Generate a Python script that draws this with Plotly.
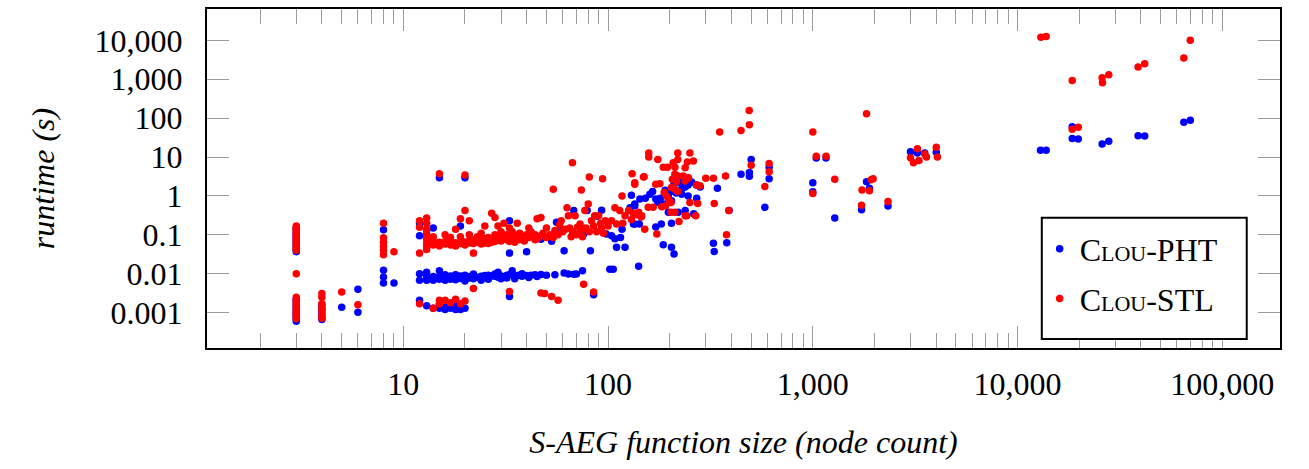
import plotly.graph_objects as go

# Runtime of the PHT-based analysis per function (size = S-AEG node count)
pht_size = [
    3, 3, 3, 3, 3, 3, 3, 3, 3, 3,
    3, 3, 3, 3, 3, 3, 3, 3, 3, 3,
    4, 4, 4, 4, 4, 5, 6, 6,
    8, 8, 8, 8, 9,
    12, 12, 12, 12, 12,
    13, 13, 13, 13, 13, 13,
    14, 14, 14, 14,
    15, 15, 15, 15, 15, 15,
    16, 16, 16, 16,
    17, 17, 17, 17,
    18, 18, 18, 18,
    19, 19, 19, 19, 19,
    20, 20, 20, 20,
    21, 21, 22, 22, 23, 24, 24, 25, 26, 26, 27, 28, 29, 29, 30, 31, 32,
    33, 33, 33, 33, 33,
    34, 35, 36, 37, 38, 40, 40, 42, 42, 44, 47, 47, 50, 53, 55, 56,
    59, 61, 61, 64, 68, 68, 70, 73, 75, 76, 79, 82, 85, 89, 93, 98,
    102, 104, 106, 108, 110, 115, 117, 121, 128, 130, 133, 135, 135, 135, 141, 142, 143,
    152, 160, 165, 171, 171, 175, 180, 182, 186, 186, 190, 197, 197, 200, 204, 204, 204,
    210, 210, 215, 220, 225, 229, 229, 238, 238, 246, 246, 256, 262, 270, 271, 282,
    327, 330, 342, 380, 390, 446, 490, 490, 500, 583, 612, 612,
    1000, 1000, 1040, 1160, 1280, 1730, 1830, 1890, 2330, 3000, 3240, 3520, 4010,
    12950, 13800, 18500, 18500, 19800, 25900, 27900, 38800, 41800, 64900, 69800,
    16, 18, 20, 22, 24, 26, 28, 30, 32, 35, 38, 41, 45,
]
pht_runtime = [
    0.15, 0.13, 0.11, 0.095, 0.08, 0.068, 0.058, 0.05, 0.043, 0.037,
    0.0022, 0.0019, 0.0016, 0.0014, 0.0012, 0.001, 0.0009, 0.0008, 0.0007, 0.0006,
    0.0016, 0.0012, 0.001, 0.0008, 0.00067, 0.00137, 0.004, 0.00102,
    0.136, 0.0123, 0.0083, 0.0058, 0.0058,
    0.2, 0.095, 0.01, 0.0068, 0.0021,
    0.13, 0.095, 0.011, 0.0085, 0.0068, 0.0015,
    0.15, 0.0085, 0.0068, 0.0013,
    2.95, 0.012, 0.0085, 0.0072, 0.0016, 0.0013,
    0.008, 0.0068, 0.0014, 0.0012,
    0.0088, 0.0072, 0.0017, 0.0013,
    0.0082, 0.007, 0.0015, 0.0012,
    0.17, 0.0088, 0.0076, 0.0014, 0.0012,
    2.95, 0.0092, 0.0074, 0.0013,
    0.0085, 0.0078, 0.0088, 0.0075, 0.0082, 0.0086, 0.0078, 0.009, 0.0084, 0.0092, 0.0088, 0.0086, 0.011, 0.0082, 0.0088, 0.0084, 0.0092,
    0.23, 0.087, 0.034, 0.0095, 0.0026,
    0.012, 0.0088, 0.009, 0.0092, 0.0086, 0.037, 0.009, 0.115, 0.0092, 0.0095, 0.077, 0.0096, 0.0092, 0.069, 0.0094, 0.21,
    0.14, 0.039, 0.0105, 0.0098, 0.42, 0.0097, 0.0099, 0.115, 0.012, 0.106, 0.42, 0.039, 0.0029, 0.3, 0.43, 0.106,
    0.013, 0.095, 0.013, 0.08, 0.048, 0.085, 0.14, 0.048, 0.5, 1.05, 0.19, 0.62, 0.56, 0.19, 0.0155, 0.19, 0.83,
    0.88, 1.11, 1.3, 0.83, 0.16, 0.68, 0.88, 0.19, 0.62, 0.056, 1.4, 0.91, 0.38, 1.25, 0.75, 0.2, 0.048,
    2.0, 0.032, 1.2, 0.38, 2.2, 1.11, 1.5, 1.7, 0.42, 1.0, 1.9, 2.3, 0.35, 1.9, 0.88, 1.7,
    0.061, 0.0375, 1.58, 0.0625, 0.42, 3.6, 4.0, 3.2, 8.7, 0.51, 5.5, 2.76,
    2.2, 1.29, 9.5, 9.5, 0.27, 0.44, 2.33, 1.58, 0.55, 13.6, 12.8, 12.8, 13.3,
    15, 15, 60, 30, 29, 21.7, 25.5, 35.5, 34.7, 78, 89,
    0.0095, 0.0095, 0.0065, 0.0098, 0.0068, 0.0072, 0.0098, 0.0075, 0.0078, 0.0075, 0.01, 0.008, 0.0085,
]

# Runtime of the STL-based analysis per function
stl_size = [
    3, 3, 3, 3, 3, 3, 3, 3, 3, 3, 3, 3, 3, 3,
    3, 3, 3, 3, 3, 3, 3, 3, 3, 3, 3, 3,
    4, 4, 4, 4, 4, 4, 4, 5, 6,
    8, 8, 8, 8, 8, 8, 9,
    12, 12, 12, 12,
    13, 13, 13, 13, 13, 13, 13, 13,
    14, 14, 14, 15, 15, 15, 15, 15,
    16, 16, 16, 17, 17, 17,
    18, 18, 18, 18, 19, 19, 19,
    20, 20, 20, 20, 20, 21, 21, 21,
    22, 22, 22, 22, 23, 24, 24, 25, 25, 25,
    26, 26, 27, 27, 27, 28, 28, 28, 29, 29, 30, 30,
    31, 31, 32, 33, 33, 33, 33, 34, 35, 36, 36, 37, 38, 39, 40,
    41, 41, 43, 44, 45, 45, 47, 47, 47, 48, 49, 50, 50, 52, 53, 54, 54, 55, 57, 57, 58, 59, 60,
    62, 63, 64, 65, 66, 67, 67, 69, 70, 71, 73, 74, 74, 75, 76, 77, 78, 80, 81, 81, 83, 85, 85,
    86, 88, 90, 92, 93, 94, 95, 97, 100,
    104, 108, 110, 114, 117, 118, 121, 126, 130, 131, 133, 135, 135, 138, 141, 145, 146, 149, 150, 151,
    157, 158, 158, 166, 171, 173, 175, 179, 183, 186, 188, 191, 193, 195, 197, 203, 203, 204, 206, 208,
    212, 212, 212, 212, 216, 219, 219, 219, 220, 222, 233, 238, 238, 238, 242, 244, 247, 251, 251,
    261, 268, 271, 274, 281,
    300, 327, 330, 351, 375, 379, 389, 446, 489, 490, 500, 583, 612, 612,
    1000, 1000, 1040, 1160, 1280, 1730, 1740, 1830, 1890, 1930, 1970, 2330,
    3000, 3100, 3240, 3300, 3520, 3590, 4010, 4060,
    13000, 13800, 18500, 18500, 19800, 25900, 26000, 27900, 38800, 41800, 64900, 69800,
    14, 16, 17, 19, 21, 23, 24, 26, 28, 30, 32, 34, 35, 37, 39, 42, 44, 46,
]
stl_runtime = [
    0.17, 0.155, 0.14, 0.125, 0.112, 0.1, 0.09, 0.08, 0.071, 0.063, 0.056, 0.05, 0.045, 0.04,
    0.01, 0.0025, 0.0021, 0.0018, 0.0016, 0.0014, 0.0012, 0.0011, 0.001, 0.0009, 0.0008, 0.0007,
    0.0031, 0.0025, 0.0017, 0.0014, 0.00117, 0.00087, 0.00072, 0.0034, 0.0016,
    0.2, 0.084, 0.065, 0.051, 0.04, 0.031, 0.037,
    0.23, 0.156, 0.034, 0.0017,
    0.27, 0.2, 0.14, 0.1, 0.08, 0.062, 0.05, 0.042,
    0.07, 0.055, 0.0013, 3.7, 0.065, 0.052, 0.0021, 0.0017,
    0.068, 0.058, 0.0021, 0.07, 0.055, 0.0018,
    0.14, 0.063, 0.052, 0.0022, 0.26, 0.06, 0.0017,
    3.45, 0.42, 0.066, 0.055, 0.002, 0.23, 0.062, 0.07,
    0.034, 0.0042, 0.06, 0.075, 0.065, 0.07, 0.058, 0.17, 0.08, 0.062,
    0.072, 0.085, 0.36, 0.075, 0.065, 0.28, 0.08, 0.068, 0.17, 0.078, 0.088, 0.07,
    0.2, 0.082, 0.075, 0.15, 0.09, 0.068, 0.0035, 0.08, 0.085, 0.2, 0.095, 0.075, 0.088, 0.07, 0.1,
    0.15, 0.085, 0.09, 0.1, 0.26, 0.08, 0.28, 0.095, 0.0032, 0.11, 0.0031, 0.15, 0.085, 0.1, 0.0026, 1.49, 0.085, 0.13, 0.1, 0.0021, 0.18, 0.23, 0.12,
    0.14, 0.5, 0.31, 0.15, 0.09, 7.1, 0.12, 0.31, 0.1, 0.16, 0.19, 1.43, 0.13, 0.09, 0.0054, 0.42, 0.15, 0.62, 3.07, 0.12, 0.23, 0.17, 0.0034,
    0.31, 0.12, 0.31, 0.2, 0.15, 2.78, 0.11, 0.23, 0.17,
    0.23, 0.5, 0.19, 0.42, 1.0, 0.2, 0.31, 0.42, 0.25, 3.7, 0.36, 2.2, 2.0, 0.33, 0.38, 0.29, 0.31, 3.07, 3.1, 0.14,
    0.51, 12.8, 10.1, 0.51, 2.0, 0.106, 8.7, 2.07, 0.53, 5.5, 1.22, 0.56, 1.0, 5.5, 0.83, 0.68, 0.38, 1.64, 2.7, 7.1,
    5.5, 3.6, 1.49, 0.38, 2.33, 12.8, 8.7, 1.3, 3.26, 0.22, 3.26, 5.3, 2.43, 0.31, 0.31, 7.5, 2.95, 12.8, 0.68,
    7.9, 0.31, 1.92, 0.64, 1.82,
    2.85, 2.85, 0.64, 44, 3.26, 0.1, 0.42, 48.5, 157, 68, 6.2, 1.74, 6.8, 4.2,
    44, 1.15, 10.5, 10.5, 2.7, 0.58, 1.43, 130, 1.36, 2.6, 2.78, 0.72,
    9.6, 7.1, 16.3, 8.2, 12, 10, 17.9, 10,
    12100, 12600, 935, 52, 58, 1100, 815, 1300, 2080, 2520, 3540, 10000,
    0.09, 0.1, 0.085, 0.09, 0.1, 0.09, 0.11, 0.06, 0.1, 0.12, 0.1, 0.12, 0.065, 0.11, 0.09, 0.12, 0.075, 0.09,
]

x_tick_vals = [10, 100, 1000, 10000, 100000]
x_tick_text = ["10", "100", "1,000", "10,000", "100,000"]
y_tick_vals = [0.001, 0.01, 0.1, 1, 10, 100, 1000, 10000]
y_tick_text = ["0.001", "0.01", "0.1", "1", "10", "100", "1,000", "10,000"]

SERIF = "Liberation Serif"
TICK_GRAY = "#9c9c9c"
NBSP = "\u00a0"

fig = go.Figure()
fig.add_trace(go.Scatter(
    x=pht_size, y=pht_runtime, mode="markers", name="Clou-PHT" + NBSP * 2,
    legendgroup="pht",
    marker=dict(color="#0000ff", size=7.5, line=dict(width=0)),
))
fig.add_trace(go.Scatter(
    x=stl_size, y=stl_runtime, mode="markers", name="Clou-STL" + NBSP * 2,
    legendgroup="stl",
    marker=dict(color="#ff0000", size=7.5, line=dict(width=0)),
))

fig.update_xaxes(
    type="log", range=[0.041, 5.282],
    tickmode="array", tickvals=x_tick_vals, ticktext=x_tick_text,
    ticks="inside", ticklen=22, tickwidth=1, tickcolor=TICK_GRAY,
    minor=dict(dtick="D1", ticks="inside", ticklen=15, tickwidth=1,
               tickcolor=TICK_GRAY, showgrid=False),
    showline=True, linecolor="black", linewidth=2, mirror="allticks",
    showgrid=False, zeroline=False,
    tickfont=dict(family=SERIF, size=32, color="black"),
    ticklabelstandoff=7,
    title=dict(text="S-AEG function size (node count)",
               font=dict(family=SERIF, size=32, color="black", style="italic"),
               standoff=29),
)
fig.update_yaxes(
    type="log", range=[-3.908, 4.806],
    tickmode="array", tickvals=y_tick_vals, ticktext=y_tick_text,
    ticks="inside", ticklen=22, tickwidth=1, tickcolor=TICK_GRAY,
    showline=True, linecolor="black", linewidth=2, mirror="allticks",
    showgrid=False, zeroline=False,
    tickfont=dict(family=SERIF, size=32, color="black"),
    ticklabelstandoff=16,
    title=dict(text="runtime (s)",
               font=dict(family=SERIF, size=32, color="black", style="italic"),
               standoff=30),
)

# Framed legend box drawn as a paper-anchored rectangle behind the legend entries
fig.add_shape(
    type="rect", xref="paper", yref="paper",
    x0=0.778, x1=0.969, y0=0.0264, y1=0.384,
    line=dict(color="black", width=2), fillcolor="white", layer="above",
)

fig.update_layout(
    width=1309, height=469, autosize=False,
    margin=dict(l=207, r=29, t=7, b=121, pad=0),
    paper_bgcolor="white", plot_bgcolor="white",
    showlegend=True,
    legend=dict(
        x=0.776, y=0.373, xanchor="left", yanchor="top",
        bgcolor="rgba(0,0,0,0)", borderwidth=0,
        font=dict(family=SERIF, size=32, color="black", variant="small-caps"),
        tracegroupgap=5,
    ),
)

fig.write_html("out.html")
